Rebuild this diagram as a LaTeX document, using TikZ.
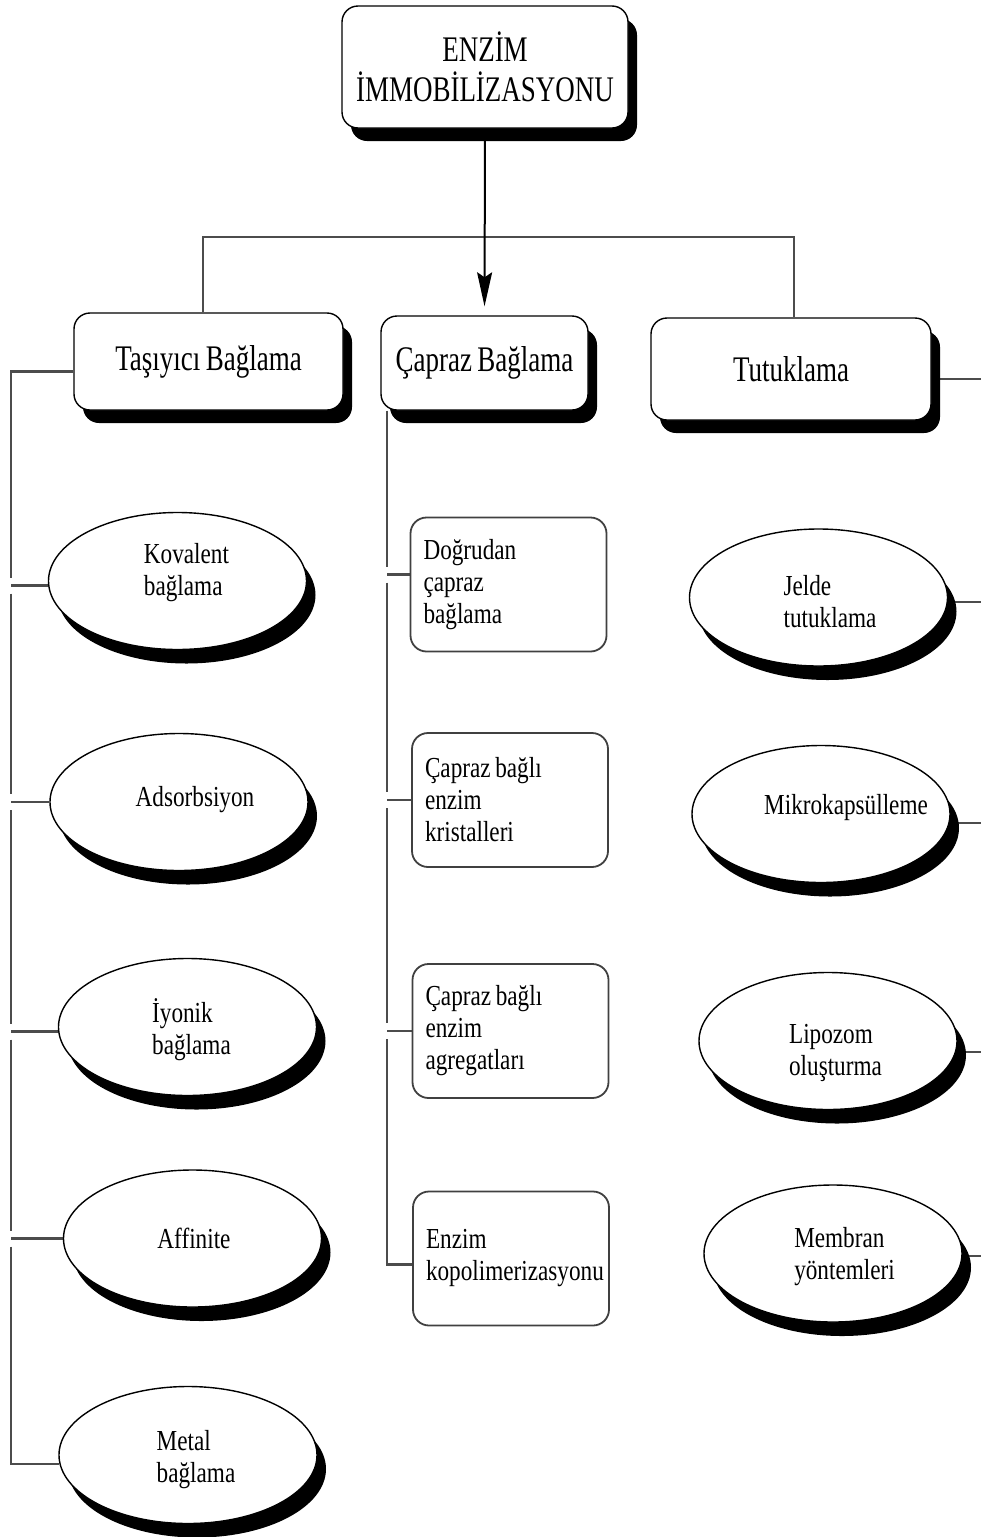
\documentclass[tikz,border=0pt]{standalone}
\usepackage{fontspec}
\setmainfont{Liberation Serif}
\newfontfamily\fbig{Liberation Serif}[FakeStretch=0.75,WordSpace=0.8]
\newfontfamily\fsmall{Liberation Serif}[FakeStretch=0.8,WordSpace=0.8]
\usetikzlibrary{shapes.geometric,shadows,arrows.meta,calc}
\pgfdeclarelayer{bg}
\pgfsetlayers{bg,main}
\tikzset{
 shad/.style={drop shadow={shadow xshift=9pt, shadow yshift=-13pt, opacity=1, fill=black}},
 eshad/.style={drop shadow={shadow xshift=9pt, shadow yshift=-14pt, opacity=1, fill=black}},
 headbox/.style={draw=black, line width=1.4pt, fill=white, rounded corners=16pt, inner sep=0pt, shad, font=\fbig\fontsize{36pt}{40pt}\selectfont, align=center},
 subbox/.style={draw=black!75, line width=1.8pt, fill=white, rounded corners=16pt, minimum width=196pt, minimum height=134pt, inner sep=0pt, text width=170pt, align=flush left, font=\fsmall\fontsize{29pt}{32pt}\selectfont},
 ell/.style={ellipse, draw=black, line width=1.4pt, fill=white, eshad, minimum width=258pt, minimum height=137pt, inner sep=0pt},
 etxt/.style={font=\fsmall\fontsize{29pt}{32pt}\selectfont, align=left, inner sep=0pt},
 conn/.style={draw=black!70, line width=2.2pt},
 arr/.style={draw=black, line width=2pt, -{Stealth[length=34pt,width=15pt,inset=5pt]}, shorten >=9pt},
}
\begin{document}
\begin{tikzpicture}[x=1pt,y=-1pt]
\useasboundingbox (0,0) rectangle (981,1537);

% top and level-1
\node[headbox, minimum width=286pt, minimum height=122pt] (root) at (485,67) {ENZİM\\İMMOBİLİZASYONU};
\node[headbox, minimum width=269pt, minimum height=97pt] (tas) at (208.5,361.5) {Taşıyıcı Bağlama};
\node[headbox, minimum width=207pt, minimum height=94pt] (cap) at (484.5,363) {Çapraz Bağlama};
\node[headbox, minimum width=280pt, minimum height=102pt] (tut) at (791,369) {Tutuklama};

% left ellipses
\node[ell, label={[etxt, xshift=9pt, yshift=8.5pt]center:{Kovalent\\bağlama}}] (kov) at (177.5,581) {};
\node[ell, label={[etxt, xshift=16pt, yshift=2pt]center:{Adsorbsiyon}}] (ads) at (179,802) {};
\node[ell, label={[etxt, xshift=4pt, yshift=-3pt]center:{İyonik\\bağlama}}] (iyo) at (187.5,1027) {};
\node[ell, label={[etxt, xshift=1.5pt, yshift=0pt]center:{Affinite}}] (aff) at (192.5,1238.5) {};
\node[ell, label={[etxt, xshift=8pt, yshift=-5pt]center:{Metal\\bağlama}}] (met) at (188,1455) {};

% middle boxes
\node[subbox] (d1) at (508.5,584.5) {Doğrudan\\çapraz\\bağlama};
\node[subbox] (d2) at (510,800) {Çapraz bağlı\\enzim\\kristalleri};
\node[subbox] (d3) at (510.5,1031) {Çapraz bağlı\\enzim\\agregatları};
\node[subbox] (d4) at (511,1258.5) {Enzim\\kopolimerizasyonu};

% right ellipses
\node[ell, label={[etxt, xshift=11.5pt, yshift=-4pt]center:{Jelde\\tutuklama}}] (jel) at (818.5,597.5) {};
\node[ell, label={[etxt, xshift=25pt, yshift=6pt]center:{Mikrokapsülleme}}] (mik) at (821,814) {};
\node[ell, label={[etxt, xshift=7.5pt, yshift=-12pt]center:{Lipozom\\oluşturma}}] (lip) at (828,1041) {};
\node[ell, label={[etxt, xshift=11.5pt, yshift=-3.5pt]center:{Membran\\yöntemleri}}] (mem) at (833,1253.5) {};

\coordinate (tl) at (203,237);
\coordinate (tr) at (794,237);
\coordinate (busL) at (11,371);
\coordinate (busM) at (387,410);
\coordinate (busR) at (990,0);
\coordinate (tE) at ([yshift=-10pt]tut.east);
\coordinate (tW) at ([yshift=-10pt]tas.west);
\coordinate (j1) at ([yshift=10pt]d1.west);
\coordinate (kJ) at (kov.182);
\coordinate (aJ) at (ads.west);
\coordinate (iJ) at (iyo.182.7);
\coordinate (fJ) at (aff.west);
\coordinate (mJ) at (met.184.5);

\begin{pgfonlayer}{bg}
\draw[conn] (tas.north -| tl) |- (tr) -- (tut.north -| tr);
\draw[arr] (root.south) -- (cap.north);
% left bus
\draw[conn] (tW) -| ($(kJ -| busL)+(0,-8)$);
\draw[conn] ($(kJ -| busL)+(0,8)$) -- ($(aJ -| busL)+(0,-8)$);
\draw[conn] ($(aJ -| busL)+(0,8)$) -- ($(iJ -| busL)+(0,-8)$);
\draw[conn] ($(iJ -| busL)+(0,8)$) -- ($(fJ -| busL)+(0,-8)$);
\draw[conn] ($(fJ -| busL)+(0,8)$) |- (mJ);
\foreach \j in {kJ,aJ,iJ,fJ} \draw[conn] (\j -| busL) -- (\j);
% middle bus
\draw[conn] (cap.south -| busM) -- ($(j1 -| busM)+(0,-8)$);
\draw[conn] ($(j1 -| busM)+(0,8)$) -- ($(d2.west -| busM)+(0,-8)$);
\draw[conn] ($(d2.west -| busM)+(0,8)$) -- ($(d3.west -| busM)+(0,-8)$);
\draw[conn] ($(d3.west -| busM)+(0,8)$) |- ([yshift=-6pt]d4.west);
\draw[conn] (j1 -| busM) -- (j1);
\draw[conn] (d2.west -| busM) -- (d2.west);
\draw[conn] (d3.west -| busM) -- (d3.west);
% right connectors
\draw[conn] (tE) -- (tE -| busR);
\draw[conn] (jel.-2) -- (jel.-2 -| busR);
\draw[conn] (mik.-4.5) -- (mik.-4.5 -| busR);
\draw[conn] (lip.-5) -- (lip.-5 -| busR);
\draw[conn] (mem.-1) -- (mem.-1 -| busR);
\end{pgfonlayer}
\end{tikzpicture}
\end{document}
